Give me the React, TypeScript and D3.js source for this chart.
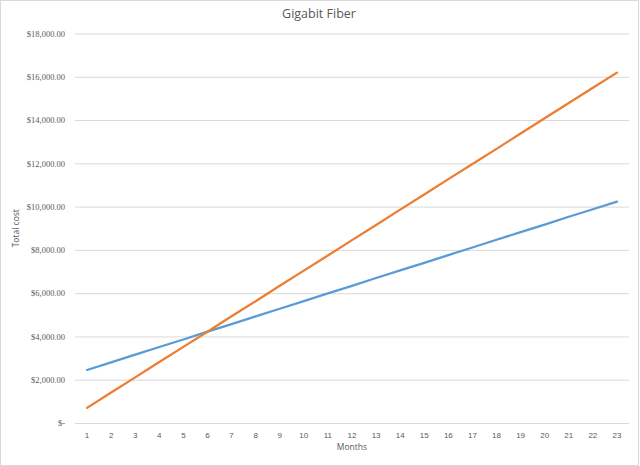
import { useEffect, useRef } from 'react';
import * as d3 from 'd3';

const months = ['1', '2', '3', '4', '5', '6', '7', '8', '9', '10', '11', '12', '13', '14', '15', '16', '17', '18', '19', '20', '21', '22', '23'];
const seriesA = [2450, 2800, 3160, 3510, 3860, 4220, 4570, 4930, 5280, 5630, 5990, 6340, 6700, 7050, 7400, 7760, 8110, 8470, 8820, 9170, 9530, 9880, 10230];
const seriesB = [700, 1410, 2110, 2820, 3520, 4220, 4930, 5630, 6340, 7040, 7740, 8450, 9150, 9860, 10560, 11270, 11970, 12670, 13380, 14080, 14790, 15490, 16190];
const yTicks = [0, 2000, 4000, 6000, 8000, 10000, 12000, 14000, 16000, 18000];

const W = 640;
const H = 466;

export default function App() {
  const svgRef = useRef<SVGSVGElement>(null);

  useEffect(() => {
    if (!svgRef.current) return;
    const svg = d3.select(svgRef.current);
    svg.selectAll('*').remove();

    const margin = { top: 33.5, right: 11, bottom: 43, left: 75 };
    const width = W - margin.left - margin.right;
    const height = H - margin.top - margin.bottom;

    // frame
    svg.append('rect')
      .attr('x', 0.5).attr('y', 0.5)
      .attr('width', 638).attr('height', 465)
      .attr('fill', '#fff')
      .attr('stroke', '#d9d9d9');

    const g = svg.append('g').attr('transform', `translate(${margin.left},${margin.top})`);

    const x = d3.scaleBand().domain(months).range([0, width]);
    const y = d3.scaleLinear().domain([0, 18000]).range([height, 0]);

    // grid
    g.append('g')
      .call(d3.axisLeft(y).tickValues(yTicks).tickSize(-width).tickFormat(() => ''))
      .call(s => s.select('.domain').remove())
      .call(s => s.selectAll('.tick line').attr('stroke', '#d9d9d9').attr('stroke-width', 1));

    // y labels
    const fmt = d3.format('$,.2f');
    g.append('g')
      .call(d3.axisLeft(y).tickValues(yTicks).tickSize(0).tickPadding(10)
        .tickFormat(d => (+d === 0 ? '$-' : fmt(+d))))
      .call(s => s.select('.domain').remove())
      .call(s => s.selectAll('.tick text')
        .attr('fill', '#595959')
        .style('font-family', '"Liberation Serif", serif')
        .style('font-size', '8.5px'));

    // x labels
    g.append('g')
      .attr('transform', `translate(0,${height})`)
      .call(d3.axisBottom(x).tickSize(0).tickPadding(9))
      .call(s => s.select('.domain').remove())
      .call(s => s.selectAll('.tick text')
        .attr('fill', '#595959')
        .style('font-family', '"Liberation Sans", sans-serif')
        .style('font-size', '8px'));

    const line = d3.line<number>()
      .x((_, i) => (x(months[i]) as number) + x.bandwidth() / 2)
      .y(d => y(d));

    g.append('path')
      .datum(seriesA)
      .attr('fill', 'none')
      .attr('stroke', '#5b9bd5')
      .attr('stroke-width', 2.25)
      .attr('stroke-linejoin', 'round')
      .attr('stroke-linecap', 'round')
      .attr('d', line);

    g.append('path')
      .datum(seriesB)
      .attr('fill', 'none')
      .attr('stroke', '#ed7d31')
      .attr('stroke-width', 2.25)
      .attr('stroke-linejoin', 'round')
      .attr('stroke-linecap', 'round')
      .attr('d', line);

    // title
    svg.append('text')
      .attr('x', 319)
      .attr('y', 18)
      .attr('text-anchor', 'middle')
      .attr('fill', '#595959')
      .style('font-family', '"Open Sans", sans-serif')
      .style('font-size', '12.5px')
      .text('Gigabit Fiber');

    // axis titles
    svg.append('text')
      .attr('x', margin.left + width / 2)
      .attr('y', 450)
      .attr('text-anchor', 'middle')
      .attr('fill', '#595959')
      .style('font-family', '"Open Sans", sans-serif')
      .style('font-size', '8.5px')
      .text('Months');

    svg.append('text')
      .attr('transform', `translate(19,${margin.top + height / 2}) rotate(-90)`)
      .attr('text-anchor', 'middle')
      .attr('fill', '#595959')
      .style('font-family', '"Open Sans", sans-serif')
      .style('font-size', '8.5px')
      .text('Total cost');
  }, []);

  return (
    <div style={{ position: 'fixed', left: 0, top: 0, width: W, height: H, background: '#fff' }}>
      <svg ref={svgRef} width={W} height={H} />
    </div>
  );
}
